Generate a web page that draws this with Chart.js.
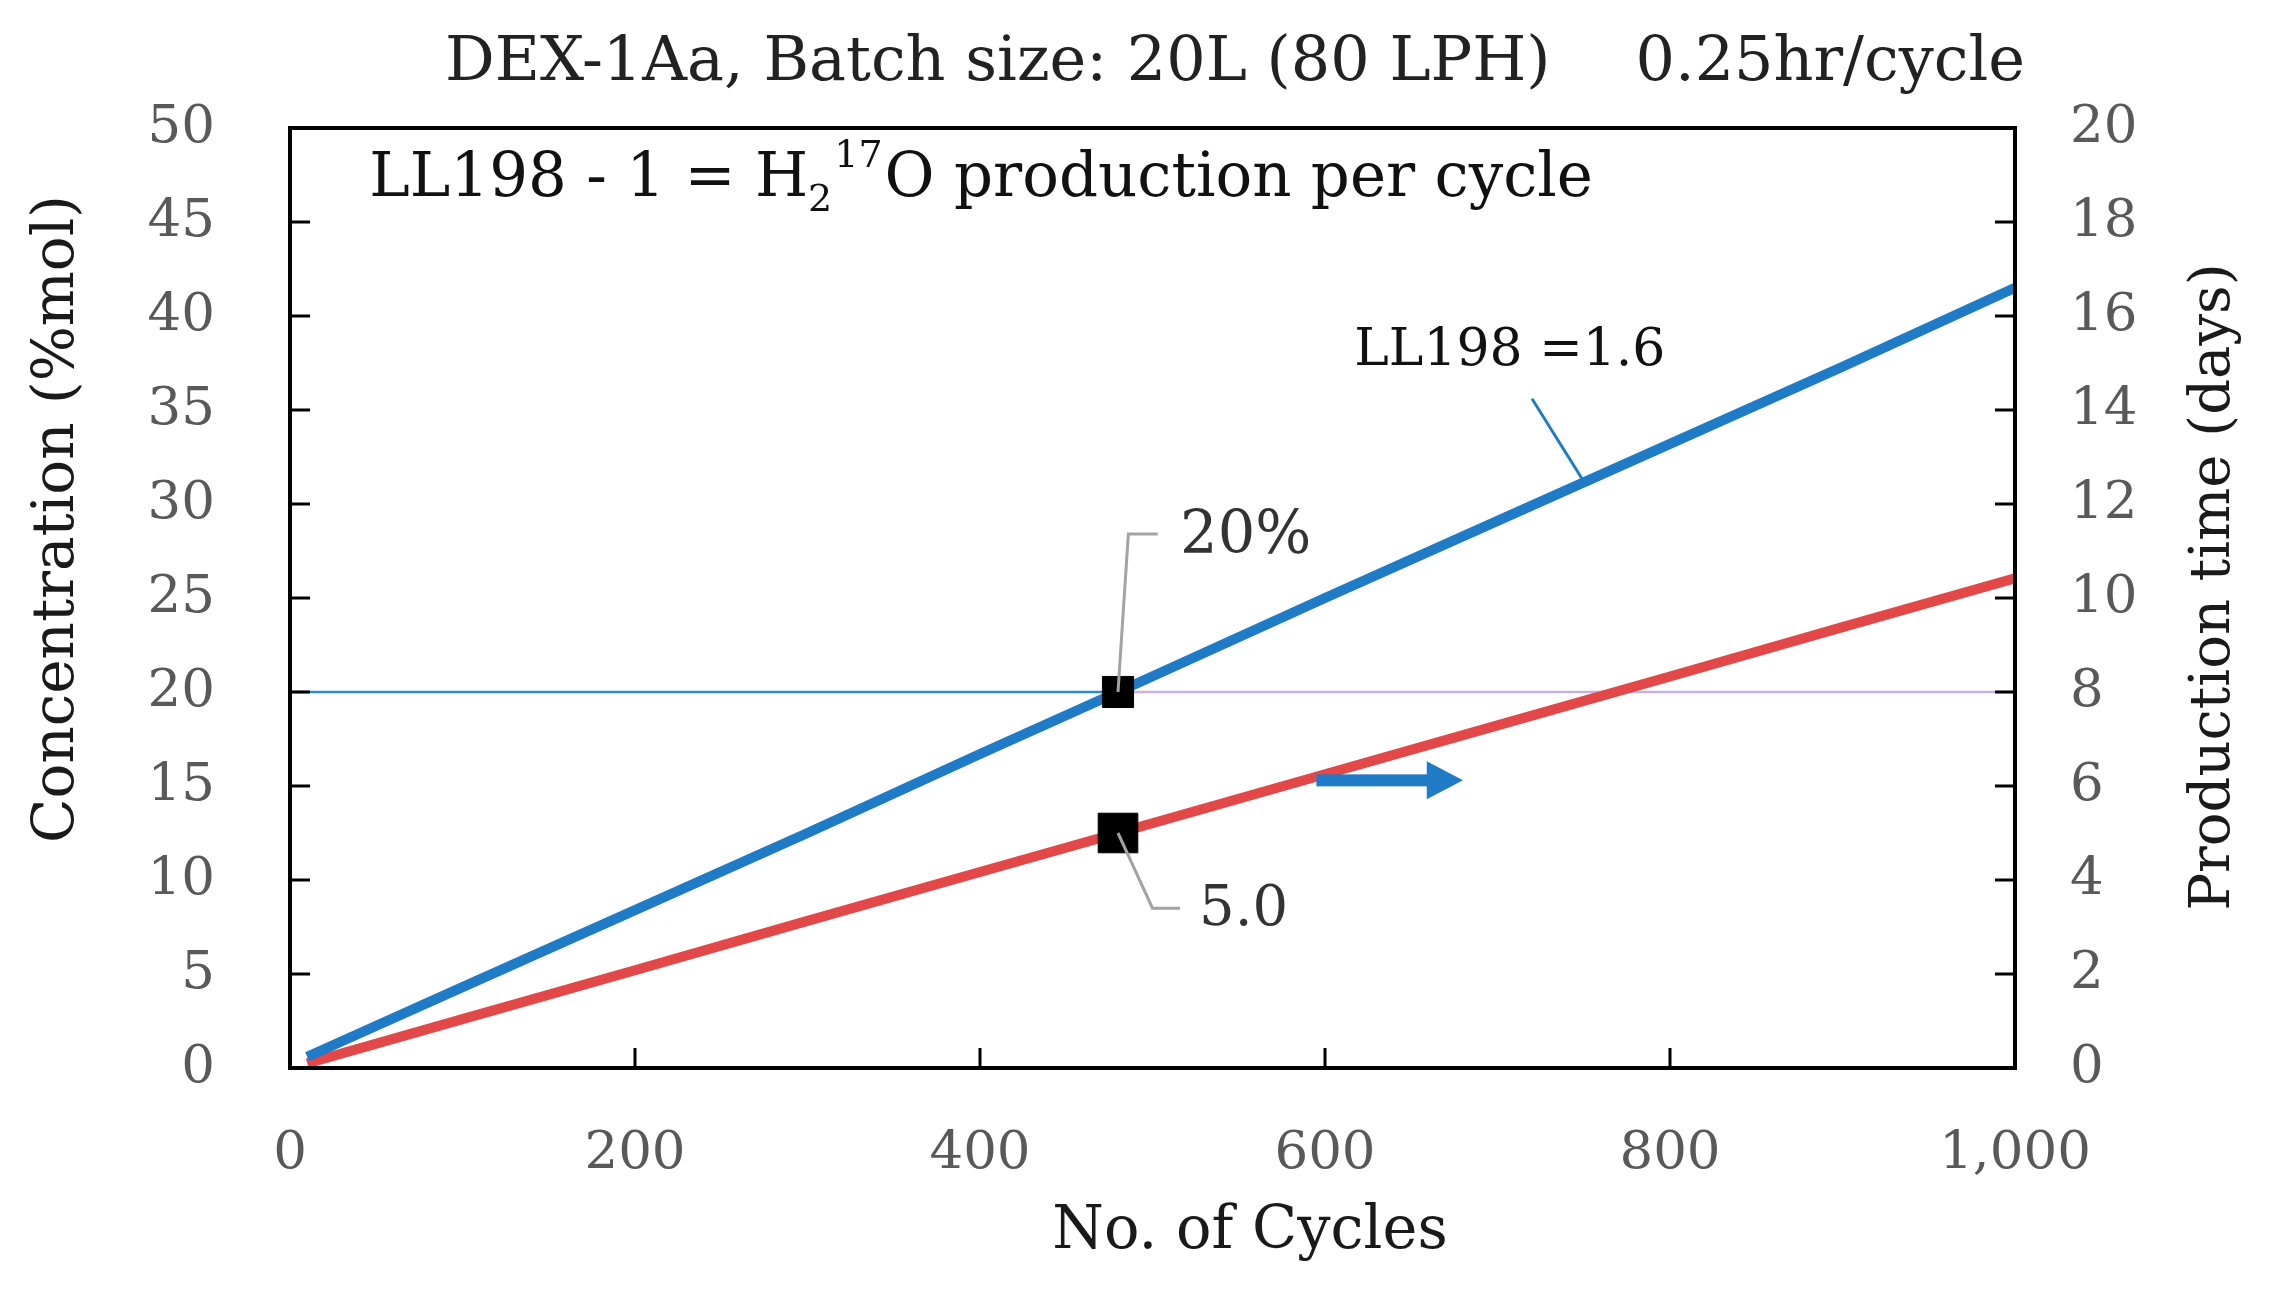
<!DOCTYPE html>
<html>
<head>
<meta charset="utf-8">
<script src="https://cdn.jsdelivr.net/npm/chart.js@4.4.0/dist/chart.umd.min.js"></script>
<style>
  html, body { margin: 0; background: #fff; }
  #wrap { width: 2273px; height: 1293px; }
</style>
</head>
<body>
<div id="wrap"><canvas id="chart"></canvas></div>
<script>
// values
const cycles = [10, 100, 200, 300, 400, 480, 600, 700, 800, 900, 1000];
const concentration = [0.6, 4.3, 8.4, 12.5, 16.7, 20.0, 25.0, 29.1, 33.2, 37.3, 41.5];
const prodDays = [0.1, 1.04, 2.08, 3.13, 4.17, 5.0, 6.25, 7.29, 8.33, 9.38, 10.42];
const targetCycle = 480;
const targetConc = 20;
const targetDays = 5.0;
const xTicks = [0, 200, 400, 600, 800, 1000];
const leftTicks = [0, 5, 10, 15, 20, 25, 30, 35, 40, 45, 50];
const rightTicks = [0, 2, 4, 6, 8, 10, 12, 14, 16, 18, 20];

const BLUE = '#1f7bc6';
const RED = '#e24848';
const GRAY = '#595959';
const FONT = '"DejaVu Serif", serif';

const pts = (xs, ys) => xs.map((x, i) => ({ x: x, y: ys[i] }));

// inward ticks, frame, annotations and texts
const decor = {
  id: 'decor',
  afterDatasetsDraw(chart) {
    const ctx = chart.ctx;
    const a = chart.chartArea;
    const sx = chart.scales.x, sy = chart.scales.y, sy2 = chart.scales.y2;
    ctx.save();

    // leader lines (gray)
    ctx.strokeStyle = '#a3a3a3';
    ctx.lineWidth = 3;
    ctx.beginPath();
    ctx.moveTo(sx.getPixelForValue(targetCycle), sy.getPixelForValue(targetConc));
    ctx.lineTo(sx.getPixelForValue(486), sy.getPixelForValue(28.4));
    ctx.lineTo(sx.getPixelForValue(503), sy.getPixelForValue(28.4));
    ctx.stroke();
    ctx.beginPath();
    ctx.moveTo(sx.getPixelForValue(targetCycle), sy2.getPixelForValue(targetDays));
    ctx.lineTo(sx.getPixelForValue(500), sy.getPixelForValue(8.5));
    ctx.lineTo(sx.getPixelForValue(516), sy.getPixelForValue(8.5));
    ctx.stroke();

    // leader to blue line
    ctx.strokeStyle = BLUE;
    ctx.lineWidth = 3;
    ctx.beginPath();
    ctx.moveTo(sx.getPixelForValue(720), sy.getPixelForValue(35.6));
    ctx.lineTo(sx.getPixelForValue(750), sy.getPixelForValue(31.2));
    ctx.stroke();

    // arrow pointing to right axis
    const ay = sy.getPixelForValue(15.3);
    const x0 = sx.getPixelForValue(595), xh = sx.getPixelForValue(659), xt = sx.getPixelForValue(680);
    ctx.fillStyle = BLUE;
    ctx.fillRect(x0, ay - 6, xh - x0 + 2, 12);
    ctx.beginPath();
    ctx.moveTo(xh, ay - 19);
    ctx.lineTo(xt, ay);
    ctx.lineTo(xh, ay + 19);
    ctx.closePath();
    ctx.fill();

    // frame
    ctx.strokeStyle = '#000';
    ctx.lineWidth = 4;
    ctx.strokeRect(a.left, a.top, a.right - a.left, a.bottom - a.top);

    // inward ticks
    ctx.lineWidth = 3;
    ctx.beginPath();
    leftTicks.forEach(v => {
      const p = sy.getPixelForValue(v);
      ctx.moveTo(a.left, p); ctx.lineTo(a.left + 20, p);
    });
    rightTicks.forEach(v => {
      const p = sy2.getPixelForValue(v);
      ctx.moveTo(a.right, p); ctx.lineTo(a.right - 20, p);
    });
    xTicks.forEach(v => {
      const p = sx.getPixelForValue(v);
      ctx.moveTo(p, a.bottom); ctx.lineTo(p, a.bottom - 20);
    });
    ctx.stroke();

    // annotation labels
    ctx.fillStyle = '#333';
    ctx.textBaseline = 'middle';
    ctx.textAlign = 'left';
    ctx.font = '59px ' + FONT;
    ctx.fillText('20%', sx.getPixelForValue(516), sy.getPixelForValue(28.2));
    ctx.font = '56px ' + FONT;
    ctx.fillText('5.0', sx.getPixelForValue(527), sy.getPixelForValue(8.4));
    ctx.fillStyle = '#111';
    ctx.font = '52px ' + FONT;
    ctx.fillText('LL198 =1.6', sx.getPixelForValue(617), sy.getPixelForValue(38.1));

    // LL198 - 1 = H2(17)O production per cycle
    const tx = sx.getPixelForValue(46), ty = sy.getPixelForValue(47.2);
    ctx.font = '61px ' + FONT;
    let x = tx;
    const part1 = 'LL198 - 1 = H';
    ctx.fillText(part1, x, ty); x += ctx.measureText(part1).width;
    ctx.font = '38px ' + FONT;
    ctx.fillText('2', x, ty + 20); const w2 = ctx.measureText('2').width;
    ctx.fillText('17', x + w2 + 2, ty - 24); x += w2 + 2 + ctx.measureText('17').width + 2;
    ctx.font = '61px ' + FONT;
    ctx.fillText('O production per cycle', x, ty);

    // title
    ctx.fillStyle = '#222';
    ctx.font = '62px ' + FONT;
    ctx.textAlign = 'left';
    ctx.fillText('DEX-1Aa, Batch size: 20L (80 LPH)', 445, 64);
    ctx.textAlign = 'right';
    ctx.fillText('0.25hr/cycle', 2025, 64);

    // axis titles
    ctx.textAlign = 'center';
    ctx.fillStyle = '#1a1a1a';
    ctx.font = '59px ' + FONT;
    ctx.fillText('No. of Cycles', 1250, 1233);
    ctx.save();
    ctx.translate(58, 519);
    ctx.rotate(-Math.PI / 2);
    ctx.font = '58px ' + FONT;
    ctx.fillText('Concentration (%mol)', 0, 0);
    ctx.restore();
    ctx.save();
    ctx.translate(2214, 587);
    ctx.rotate(-Math.PI / 2);
    ctx.font = '56px ' + FONT;
    ctx.fillText('Production time (days)', 0, 0);
    ctx.restore();

    ctx.restore();
  }
};

new Chart(document.getElementById('chart'), {
  type: 'scatter',
  data: {
    datasets: [
      {
        data: [{ x: targetCycle, y: targetConc }],
        yAxisID: 'y',
        pointStyle: 'rect', pointRadius: 22,
        backgroundColor: '#000', borderColor: '#000'
      },
      {
        data: [{ x: targetCycle, y: targetDays }],
        yAxisID: 'y2',
        pointStyle: 'rect', pointRadius: 28,
        backgroundColor: '#000', borderColor: '#000'
      },
      {
        data: pts(cycles, concentration),
        yAxisID: 'y',
        showLine: true, borderColor: BLUE, borderWidth: 10, pointRadius: 0
      },
      {
        data: pts(cycles, prodDays),
        yAxisID: 'y2',
        showLine: true, borderColor: RED, borderWidth: 10, pointRadius: 0
      },
      {
        data: [{ x: 0, y: targetConc }, { x: targetCycle, y: targetConc }],
        yAxisID: 'y',
        showLine: true, borderColor: '#2a8ad4', borderWidth: 2.5, pointRadius: 0
      },
      {
        data: [{ x: targetCycle, y: targetConc }, { x: 1000, y: targetConc }],
        yAxisID: 'y',
        showLine: true, borderColor: '#c9b0e2', borderWidth: 2.5, pointRadius: 0
      }
    ]
  },
  options: {
    responsive: true,
    maintainAspectRatio: false,
    animation: false,
    layout: { padding: { top: 128, left: 0, right: 0, bottom: 0 } },
    plugins: { legend: { display: false }, tooltip: { enabled: false } },
    scales: {
      x: {
        type: 'linear', min: 0, max: 1000,
        afterFit: s => { s.height = 225; },
        afterBuildTicks: s => { s.ticks = xTicks.map(v => ({ value: v })); },
        grid: { display: false, drawTicks: false },
        border: { display: false },
        ticks: {
          color: GRAY, padding: 54, maxRotation: 0,
          font: { family: FONT, size: 53 },
          callback: v => v.toLocaleString('en-US')
        }
      },
      y: {
        position: 'left', min: 0, max: 50,
        afterFit: s => { s.width = 290; },
        afterBuildTicks: s => { s.ticks = leftTicks.map(v => ({ value: v })); },
        grid: { display: false, drawTicks: false },
        border: { display: false },
        ticks: { color: GRAY, padding: 75, font: { family: FONT, size: 53 } }
      },
      y2: {
        position: 'right', min: 0, max: 20,
        afterFit: s => { s.width = 258; },
        afterBuildTicks: s => { s.ticks = rightTicks.map(v => ({ value: v })); },
        grid: { display: false, drawTicks: false },
        border: { display: false },
        ticks: { color: GRAY, padding: 55, font: { family: FONT, size: 53 } }
      }
    }
  },
  plugins: [decor]
});
</script>
</body>
</html>
